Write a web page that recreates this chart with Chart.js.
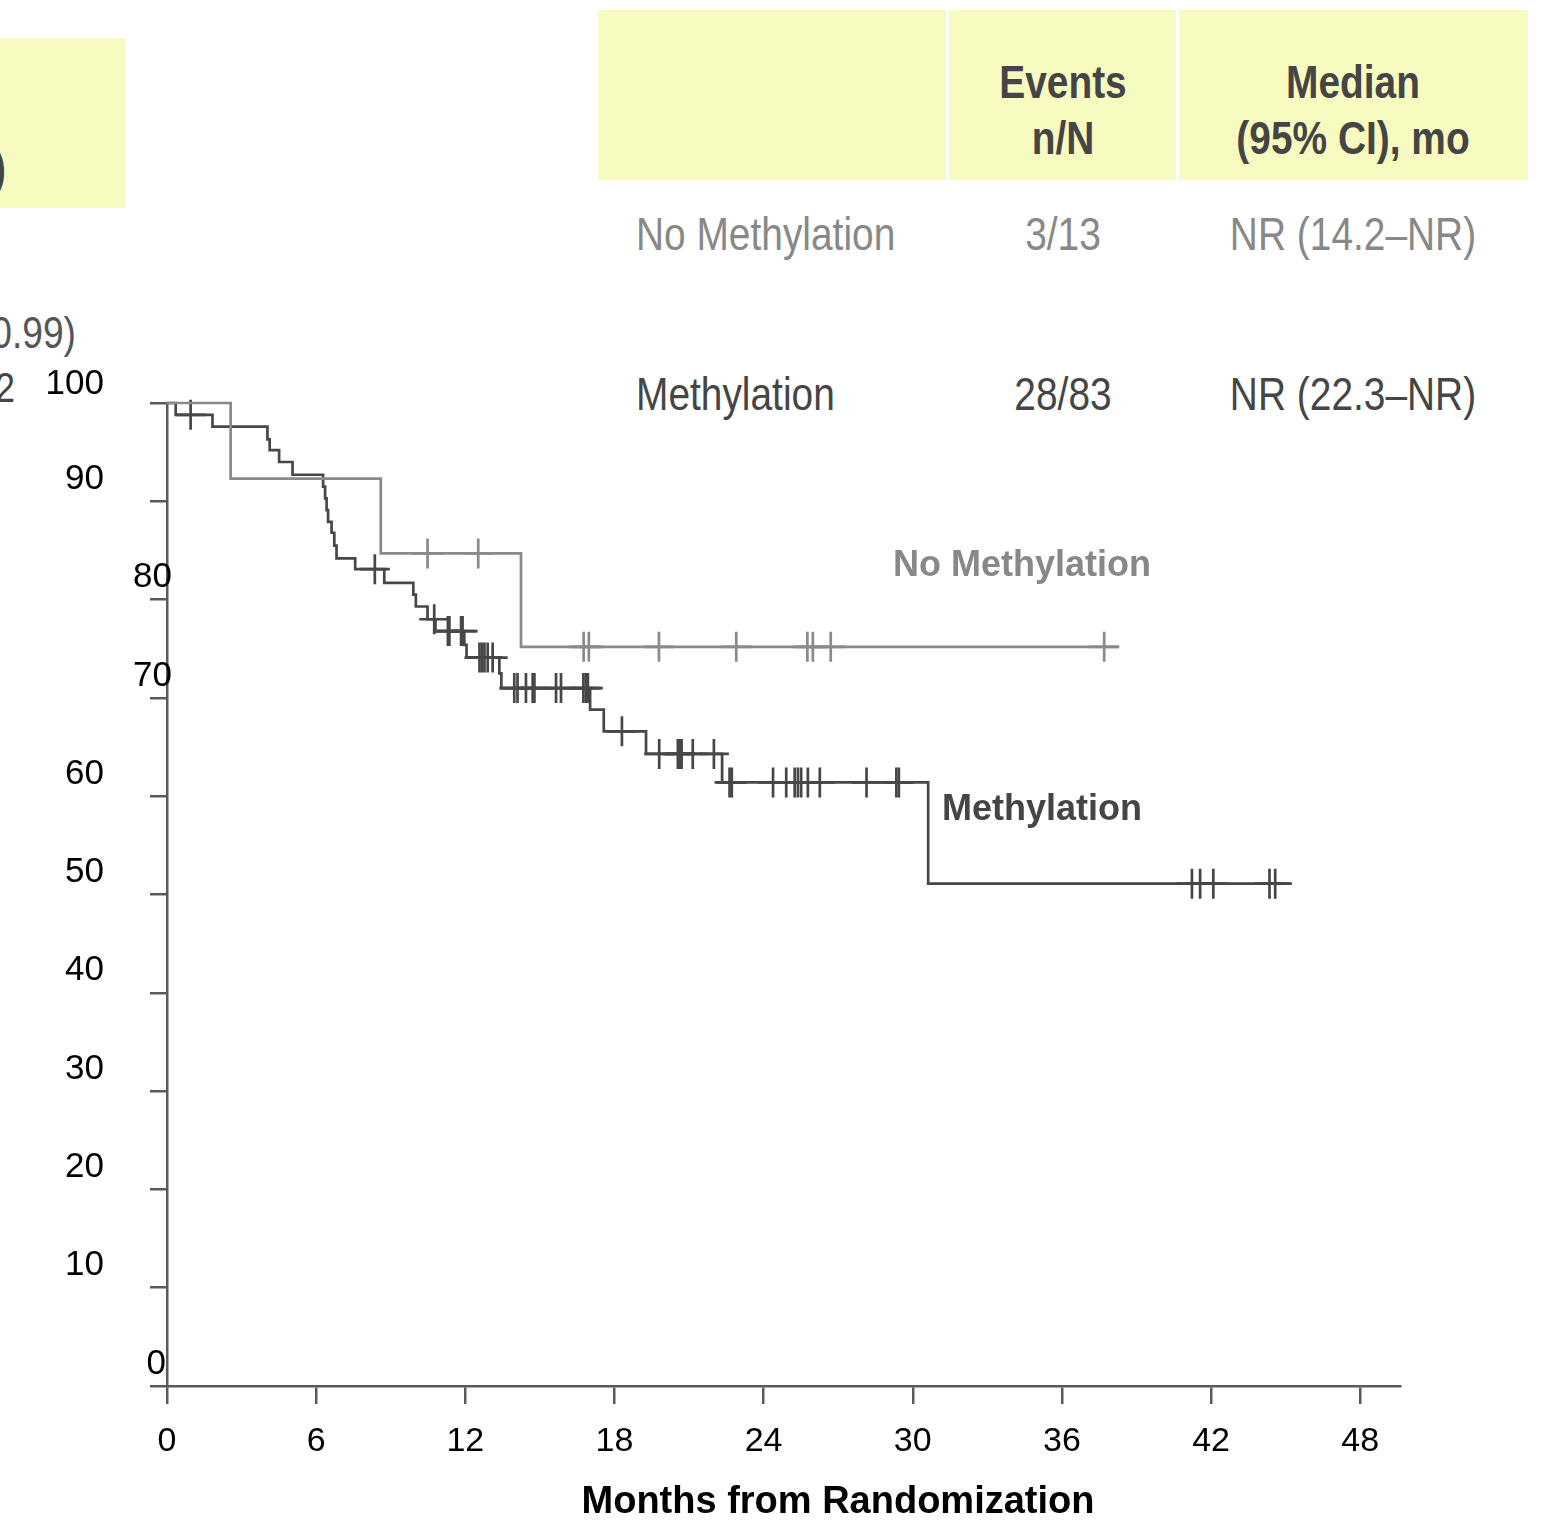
<!DOCTYPE html>
<html>
<head>
<meta charset="utf-8">
<script src="https://cdn.jsdelivr.net/npm/chart.js@4.4.1/dist/chart.umd.min.js"></script>
<style>
html, body { margin: 0; padding: 0; background: #fff; }
#wrap { position: relative; width: 1542px; height: 1527px; overflow: hidden; }
#kmChart { position: absolute; left: 0; top: 0; }
.box { position: absolute; background: #f8fbbf; }
.sep { position: absolute; background: #fff; }
.t { position: absolute; white-space: nowrap; line-height: 1;
     font-family: 'Liberation Sans Narrow', 'Liberation Sans', Arial, sans-serif; font-size: 46px; }
/* no narrow face installed, so squeeze the regular one */
.c { transform-origin: 50% 50%; transform: translate(-50%, -50%) scaleX(0.845); }
.l { transform-origin: 0 50%; transform: translate(0, -50%) scaleX(0.845); }
.r { transform-origin: 100% 50%; transform: translate(-100%, -50%) scaleX(0.845); }
.b { font-weight: bold; }
.dark { color: #454545; }
.grey { color: #888; }
.plot { font-family: 'Liberation Sans', Arial, sans-serif; font-weight: bold; font-size: 36px; }
.wide { transform: translate(0, -50%); }
.wc { transform: translate(-50%, -50%); }
</style>
</head>
<body>
<div id="wrap">
  <!-- cut-off pieces of the neighbouring panel -->
  <div class="box" style="left:0;top:38px;width:125px;height:170px;"></div>
  <div class="t r b dark" style="left:6px;top:168px;">)</div>
  <div class="t r" style="left:76px;top:333px;color:#555;font-size:44px;">0.99)</div>
  <div class="t r dark" style="left:15px;top:388px;font-size:42px;">2</div>

  <!-- table -->
  <div class="box" style="left:598px;top:10px;width:930px;height:170px;"></div>
  <div class="sep" style="left:946px;top:10px;width:3px;height:170px;"></div>
  <div class="sep" style="left:1176px;top:10px;width:3px;height:170px;"></div>
  <div class="t c b dark" style="left:1063px;top:82px;">Events</div>
  <div class="t c b dark" style="left:1063px;top:138px;">n/N</div>
  <div class="t c b dark" style="left:1353px;top:82px;">Median</div>
  <div class="t c b dark" style="left:1353px;top:138px;">(95% CI), mo</div>
  <div class="t l grey" style="left:636px;top:234px;">No Methylation</div>
  <div class="t c grey" style="left:1063px;top:234px;">3/13</div>
  <div class="t c grey" style="left:1353px;top:234px;">NR (14.2–NR)</div>
  <div class="t l dark" style="left:636px;top:394px;">Methylation</div>
  <div class="t c dark" style="left:1063px;top:394px;">28/83</div>
  <div class="t c dark" style="left:1353px;top:394px;">NR (22.3–NR)</div>

  <canvas id="kmChart" width="1542" height="1527"></canvas>

  <!-- curve labels and axis title -->
  <div class="t wide plot grey" style="left:893px;top:564px;">No Methylation</div>
  <div class="t wide plot dark" style="left:942px;top:808px;">Methylation</div>
  <div class="t wc plot" style="left:838px;top:1500px;color:#000;font-size:38px;">Months from Randomization</div>
</div>

<script>
// Kaplan-Meier steps (months, % surviving after the drop)
var methTime = [0, 0.35, 1.83, 4.04, 4.13, 4.51, 5.05, 6.28, 6.36, 6.42, 6.48, 6.62, 6.73, 6.82,
                7.57, 8.74, 9.91, 10.01, 10.48, 10.8, 11.96, 12.05, 13.37, 13.45, 17.02, 17.57,
                19.27, 22.33, 30.62, 45.25];
var methSurv = [100, 98.8, 97.6, 96.3, 95.2, 94.0, 92.7, 91.5, 90.3, 89.1, 87.9, 86.8, 85.5, 84.2,
                83.1, 81.7, 80.5, 79.3, 78.0, 76.8, 75.4, 74.1, 72.5, 71.0, 68.8, 66.6,
                64.3, 61.4, 51.1, 51.1];
var methCensor = [0.95, 8.36, 10.75, 11.3, 11.36, 11.83, 11.89, 12.57, 12.67, 12.77, 12.9, 13.1,
                  13.97, 14.1, 14.44, 14.71, 14.78, 15.65, 15.85, 16.75, 16.85, 16.93, 18.3, 19.8,
                  20.55, 20.62, 20.7, 21.15, 22.0, 22.63, 22.72, 24.38, 24.91, 25.25, 25.38, 25.51,
                  25.78, 26.26, 28.14, 29.34, 29.44, 41.23, 41.56, 42.09, 44.35, 44.58];

var noTime = [0, 2.56, 8.6, 14.24, 38.3];
var noSurv = [100, 92.3, 84.7, 75.2, 75.2];
var noCensor = [10.48, 12.52, 16.76, 16.97, 19.79, 22.9, 25.76, 25.98, 26.7, 37.7];

var monthTicks = [0, 6, 12, 18, 24, 30, 36, 42, 48];
var pctTicks = [0, 10, 20, 30, 40, 50, 60, 70, 80, 90, 100];

// the 80, 70 and 0 labels sit further right in the original slide
var yLabelNudge = { 80: 68, 70: 68, 0: 62 };

var DARK = '#474747';
var GREY = '#8a8a8a';
var AXIS = '#5a5a5a';

function steps(times, surv) {
  return times.map(function (t, i) { return { x: t, y: surv[i] }; });
}
function survAt(times, surv, t) {
  var s = surv[0];
  for (var i = 0; i < times.length; i++) {
    if (times[i] <= t) s = surv[i];
  }
  return s;
}
function marks(censor, times, surv) {
  return censor.map(function (t) { return { x: t, y: survAt(times, surv, t) }; });
}

var yLabels = {
  id: 'yLabels',
  afterDraw: function (chart) {
    var ys = chart.scales.y, ctx = chart.ctx;
    ctx.save();
    ctx.font = '35px "Liberation Sans", Arial, sans-serif';
    ctx.fillStyle = '#000';
    ctx.textAlign = 'right';
    ctx.textBaseline = 'middle';
    ys.ticks.forEach(function (tk) {
      var dx = yLabelNudge[tk.value] || 0;
      var dy = tk.value === 100 ? -19 : -22;
      ctx.fillText(String(tk.value), 104 + dx, ys.getPixelForValue(tk.value) + dy);
    });
    ctx.restore();
  }
};

var ctx = document.getElementById('kmChart').getContext('2d');
var kmChart = new Chart(ctx, {
  type: 'line',
  data: {
    datasets: [{
      label: 'No Methylation',
      data: steps(noTime, noSurv),
      stepped: 'before',
      borderColor: GREY,
      borderWidth: 2.7,
      pointRadius: 0,
      fill: false,
      clip: false
    }, {
      label: 'Methylation',
      data: steps(methTime, methSurv),
      stepped: 'before',
      borderColor: DARK,
      borderWidth: 2.7,
      pointRadius: 0,
      fill: false,
      clip: false
    }, {
      label: 'No Methylation censored',
      data: marks(noCensor, noTime, noSurv),
      showLine: false,
      pointStyle: 'cross',
      pointRadius: 15,
      pointBorderWidth: 2.7,
      borderColor: GREY,
      clip: false
    }, {
      label: 'Methylation censored',
      data: marks(methCensor, methTime, methSurv),
      showLine: false,
      pointStyle: 'cross',
      pointRadius: 15,
      pointBorderWidth: 2.7,
      borderColor: DARK,
      clip: false
    }]
  },
  options: {
    responsive: false,
    animation: false,
    layout: { padding: { left: 0, top: 403, right: 142, bottom: 0 } },
    plugins: { legend: { display: false }, tooltip: { enabled: false } },
    scales: {
      x: {
        type: 'linear',
        min: 0,
        max: 49.6,
        afterBuildTicks: function (s) { s.ticks = monthTicks.map(function (v) { return { value: v }; }); },
        afterFit: function (s) { s.height = 141; },
        grid: { drawOnChartArea: false, tickLength: 18, color: AXIS, lineWidth: 2.5 },
        border: { display: true, color: AXIS, width: 2.5 },
        ticks: {
          autoSkip: false, maxRotation: 0, padding: 17, color: '#000',
          font: { family: '"Liberation Sans", Arial, sans-serif', size: 34 }
        }
      },
      y: {
        type: 'linear',
        min: 0,
        max: 100,
        afterBuildTicks: function (s) { s.ticks = pctTicks.map(function (v) { return { value: v }; }); },
        afterFit: function (s) { s.width = 167; },
        grid: { drawOnChartArea: false, tickLength: 17, color: AXIS, lineWidth: 2.5 },
        border: { display: true, color: AXIS, width: 2.5 },
        ticks: { display: false }
      }
    }
  },
  plugins: [yLabels]
});
</script>
</body>
</html>
